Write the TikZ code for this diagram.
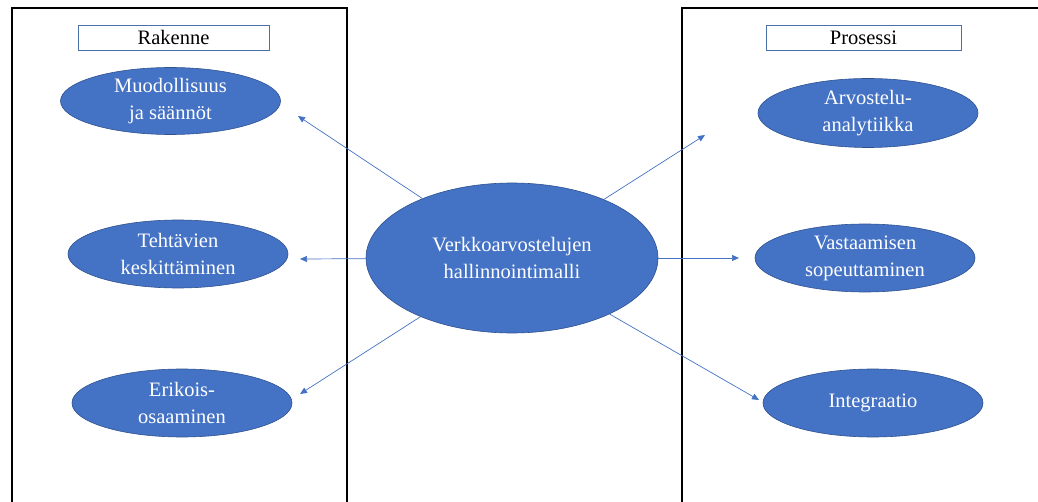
\documentclass[tikz,border=0pt]{standalone}
\usepackage{fontspec}
\setmainfont{Liberation Serif}
\usetikzlibrary{shapes.geometric,arrows.meta}
\definecolor{fillblue}{HTML}{4472C4}
\definecolor{edgeblue}{HTML}{2F528F}
\definecolor{labeledge}{HTML}{4A6FA5}
\tikzset{
  topic/.style={ellipse, fill=fillblue, draw=edgeblue, line width=0.6pt,
    minimum width=220pt, minimum height=68pt, inner sep=0pt,
    text=white, align=center,
    font=\fontsize{20.5pt}{27pt}\selectfont},
  hub/.style={topic, minimum width=292pt, minimum height=150pt},
  heading/.style={rectangle, draw=labeledge, fill=white, line width=0.9pt,
    minimum height=25pt, inner sep=0pt, text=black,
    font=\fontsize{20.5pt}{24.5pt}\selectfont},
  frame/.style={draw=black, line width=1.4pt},
  link/.style={draw=fillblue, line width=0.7pt,
    -{Triangle[length=7pt,width=6pt]}}
}
\begin{document}
\begin{tikzpicture}[x=1pt,y=-1pt]
\useasboundingbox (0,0) rectangle (1038,502);

% two open frames running off the page
\draw[frame] (12,502) -- (12,8) -- (347,8) -- (347,502);
\draw[frame] (682,502) -- (682,8) -- (1038,8);

% frame headings
\node[heading, minimum width=191pt] (rak) at (173.5,37.5) {Rakenne};
\node[heading, minimum width=195pt] (pro) at (863.5,37.5) {Prosessi};

% central model
\node[hub] (c) at (512,258) {Verkkoarvostelujen\\hallinnointimalli};

% structure side
\node[topic, minimum height=67pt] (m1) at (170.5,101) {Muodollisuus\\ja säännöt};
\node[topic] (m2) at (178,254) {Tehtävien\\keskittäminen};
\node[topic] (m3) at (182,403) {Erikois-\\osaaminen};

% process side
\node[topic, minimum height=69pt] (p1) at (868,113) {Arvostelu-\\analytiikka};
\node[topic] (p2) at (865,258) {Vastaamisen\\sopeuttaminen};
\node[topic] (p3) at (873,403) {Integraatio};

% arrow ends
\coordinate (t1) at (298,116);
\coordinate (t2) at (705,135);
\coordinate (t3) at (300,259);
\coordinate (t4) at (739,258);
\coordinate (t5) at (300,394);
\coordinate (t6) at (759,400);

\draw[link] (c) -- (t1);
\draw[link] (c) -- (t2);
\draw[link] (c) -- (t3);
\draw[link] (c) -- (t4);
\draw[link] (c) -- (t5);
\draw[link] (c) -- (t6);
\end{tikzpicture}
\end{document}
